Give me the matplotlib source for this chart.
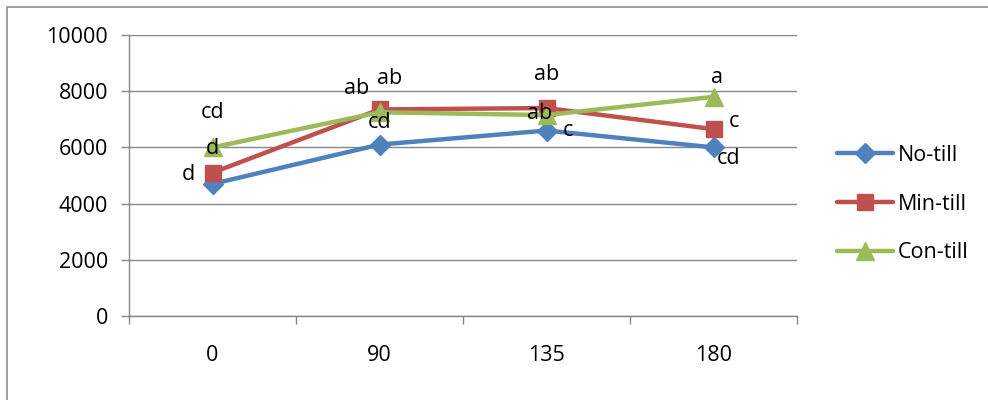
import matplotlib
matplotlib.use("Agg")
import matplotlib.pyplot as plt
from matplotlib.patches import Rectangle

plt.rcParams['font.family'] = ['Open Sans', 'DejaVu Sans']

categories = ["0", "90", "135", "180"]
no_till = [4700, 6100, 6600, 6000]
min_till = [5100, 7350, 7400, 6650]
con_till = [6000, 7250, 7150, 7800]
no_till_letters = ["d", "cd", "c", "cd"]
min_till_letters = ["d", "ab", "ab", "c"]
con_till_letters = ["cd", "ab", "ab", "a"]
yticks = [0, 2000, 4000, 6000, 8000, 10000]

# label offsets in pixels (styling)
no_off = [(-24, 9), (0, 22), (21, 0), (15, -11)]
min_off = [(0, 24), (-23, 21), (0, 34), (20, 8)]
con_off = [(0, 35), (10, 34), (-7, 2), (3, 19)]

FS = 15.5
W, H = 988, 400
fig = plt.figure(figsize=(W / 100, H / 100), dpi=100)
ax = fig.add_axes([129 / W, 1 - 316 / H, (797 - 129) / W, (316 - 35) / H])

x = list(range(len(categories)))
series = [
    ("No-till", no_till, "#4F81BD", "D", 10, no_till_letters, no_off),
    ("Min-till", min_till, "#C0504D", "s", 12, min_till_letters, min_off),
    ("Con-till", con_till, "#9BBB59", "^", 13, con_till_letters, con_off),
]
for name, vals, col, mk, ms, letters, offs in series:
    ax.plot(x, vals, color=col, lw=3.2, marker=mk, markersize=ms,
            markeredgecolor=col, markerfacecolor=col, label=name,
            solid_capstyle='round', solid_joinstyle='round')

for name, vals, col, mk, ms, letters, offs in series:
    for xi, v, lt, off in zip(x, vals, letters, offs):
        ax.annotate(lt, (xi, v), xytext=off, textcoords='offset pixels',
                    ha='center', va='center', fontsize=FS, color='black',
                    zorder=10)

ax.set_xlim(-0.5, len(categories) - 0.5)
ax.set_ylim(0, 10000)
ax.set_yticks(yticks)
ax.set_yticklabels([str(t) for t in yticks], fontsize=FS)
ax.set_xticks(x)
ax.set_xticklabels(categories, fontsize=FS)
ax.set_xticks([i - 0.5 for i in range(len(categories) + 1)], minor=True)
ax.tick_params(axis='x', which='major', length=0, pad=21)
ax.tick_params(axis='x', which='minor', length=6, color='#868686', width=1)
ax.tick_params(axis='y', length=6, color='#868686', width=1, pad=9)
ax.grid(axis='y', color='#868686', lw=1)
ax.set_axisbelow(True)
for s in ['top', 'right']:
    ax.spines[s].set_visible(False)
for s in ['left', 'bottom']:
    ax.spines[s].set_color('#868686')
    ax.spines[s].set_linewidth(1)

leg = fig.legend(loc='center left', bbox_to_anchor=(828 / W, 1 - 204 / H),
                 frameon=False, fontsize=FS, handlelength=2.6,
                 labelspacing=1.3, handletextpad=0.25, borderaxespad=0)

fig.patches.append(Rectangle((7 / W, -0.1), 1.2, 1.1 - 7 / H,
                             transform=fig.transFigure, fill=False,
                             edgecolor='#8c8c8c', lw=1.2))

fig.savefig("out.png", dpi=100)
